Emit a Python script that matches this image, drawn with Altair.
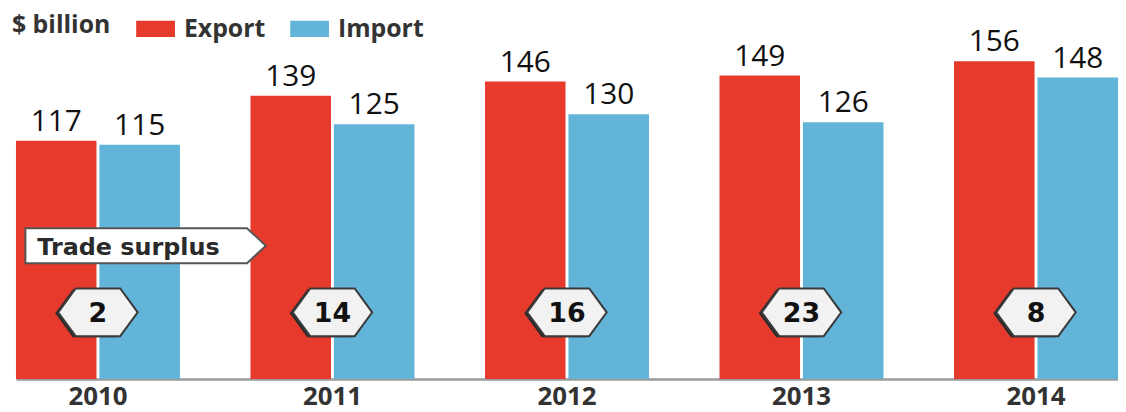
import altair as alt
import pandas as pd

years = ["2010", "2011", "2012", "2013", "2014"]
export_vals = [117, 139, 146, 149, 156]
import_vals = [115, 125, 130, 126, 148]
series = ["Export", "Import"]
colors = ["#e63a2c", "#62b4d9"]

rows = []
for y, e, i in zip(years, export_vals, import_vals):
    rows.append({"year": y, "series": "Export", "value": e})
    rows.append({"year": y, "series": "Import", "value": i})
df = pd.DataFrame(rows)

surplus = pd.DataFrame({
    "year": years,
    "surplus": [e - i for e, i in zip(export_vals, import_vals)],
})
callout = pd.DataFrame({"year": ["2010"], "label": ["Trade surplus"]})

xenc = alt.X(
    "year:N",
    sort=years,
    scale=alt.Scale(range=[8, 1117], paddingInner=0.3008, paddingOuter=0),
    axis=alt.Axis(
        title=None, labelAngle=0, ticks=False, domain=True,
        domainColor="#9a9a9a", domainWidth=2.5,
        labelFont="Open Sans", labelFontSize=26, labelFontWeight="bold",
        labelColor="#333333", labelPadding=5,
    ),
)
yscale = alt.Scale(domain=[0, 181.5], nice=False, zero=True)
xoff = alt.XOffset("series:N", sort=series,
                   scale=alt.Scale(paddingInner=0.035, paddingOuter=0))

bars = alt.Chart(df).mark_bar(opacity=1).encode(
    x=xenc,
    xOffset=xoff,
    y=alt.Y("value:Q", scale=yscale, axis=None),
    color=alt.Color(
        "series:N",
        scale=alt.Scale(domain=series, range=colors),
        legend=alt.Legend(
            title="$ billion", orient="none", legendX=4, legendY=0,
            direction="horizontal", titleOrient="left", titleBaseline="middle",
            titleFont="Open Sans", titleFontSize=25, titleFontWeight="bold",
            titleColor="#333333", titlePadding=25,
            labelFont="Open Sans", labelFontSize=25, labelFontWeight="bold",
            labelColor="#333333", labelOffset=9, columnPadding=25,
            symbolType="M-1,-0.42H1V0.42H-1Z", symbolSize=1521,
            symbolStrokeWidth=0, symbolOpacity=1,
        ),
    ),
)

values = alt.Chart(df).mark_text(
    font="Open Sans", fontSize=30, fontWeight=500, color="#111111",
    baseline="alphabetic", dy=-10
).encode(
    x=xenc,
    xOffset=xoff,
    y=alt.Y("value:Q", scale=yscale),
    text=alt.Text("value:Q"),
)

callout_shape = alt.Chart(callout).mark_point(
    shape="M-1,-0.145L0.843,-0.145L1,0L0.843,0.145L-1,0.145Z",
    size=58564, filled=True, fill="#ffffff", stroke="#555555",
    strokeWidth=2, opacity=1, fillOpacity=1, strokeOpacity=1, xOffset=48,
).encode(x=xenc, y=alt.datum(65.4))

callout_text = alt.Chart(callout).mark_text(
    font="DejaVu Sans", fontSize=24, fontWeight="bold", color="#2a2a2a",
    align="left", baseline="alphabetic", dx=-61,
).encode(x=xenc, y=alt.datum(61), text="label:N")

hexpath = "M-1,0L-0.56,-0.6L0.56,-0.6L1,0L0.56,0.6L-0.56,0.6Z"
hex_shadow = alt.Chart(surplus).mark_point(
    shape=hexpath, size=6400, filled=True, fill="#2b2b2b", opacity=1,
    fillOpacity=1, strokeWidth=0, xOffset=-3, yOffset=1,
).encode(x=xenc, y=alt.datum(32.7))

hexes = alt.Chart(surplus).mark_point(
    shape=hexpath, size=6400, filled=True, fill="#f2f2f2", stroke="#3a3a3a",
    strokeWidth=2, opacity=1, fillOpacity=1, strokeOpacity=1,
).encode(x=xenc, y=alt.datum(32.7))

hex_text = alt.Chart(surplus).mark_text(
    font="DejaVu Sans", fontSize=27, fontWeight="bold", color="#111111",
    baseline="middle", dy=2,
).encode(x=xenc, y=alt.datum(32.7), text="surplus:Q")

chart = alt.layer(
    bars, values, callout_shape, callout_text, hex_shadow, hexes, hex_text
).properties(
    width=1117, height=372,
    autosize=alt.AutoSizeParams(type="none"),
    padding={"left": 0, "top": 0, "right": 0, "bottom": 34},
).configure(background="#ffffff").configure_view(stroke=None, strokeWidth=0)

chart.save("out.html", embed_options={"renderer": "svg", "actions": False})
